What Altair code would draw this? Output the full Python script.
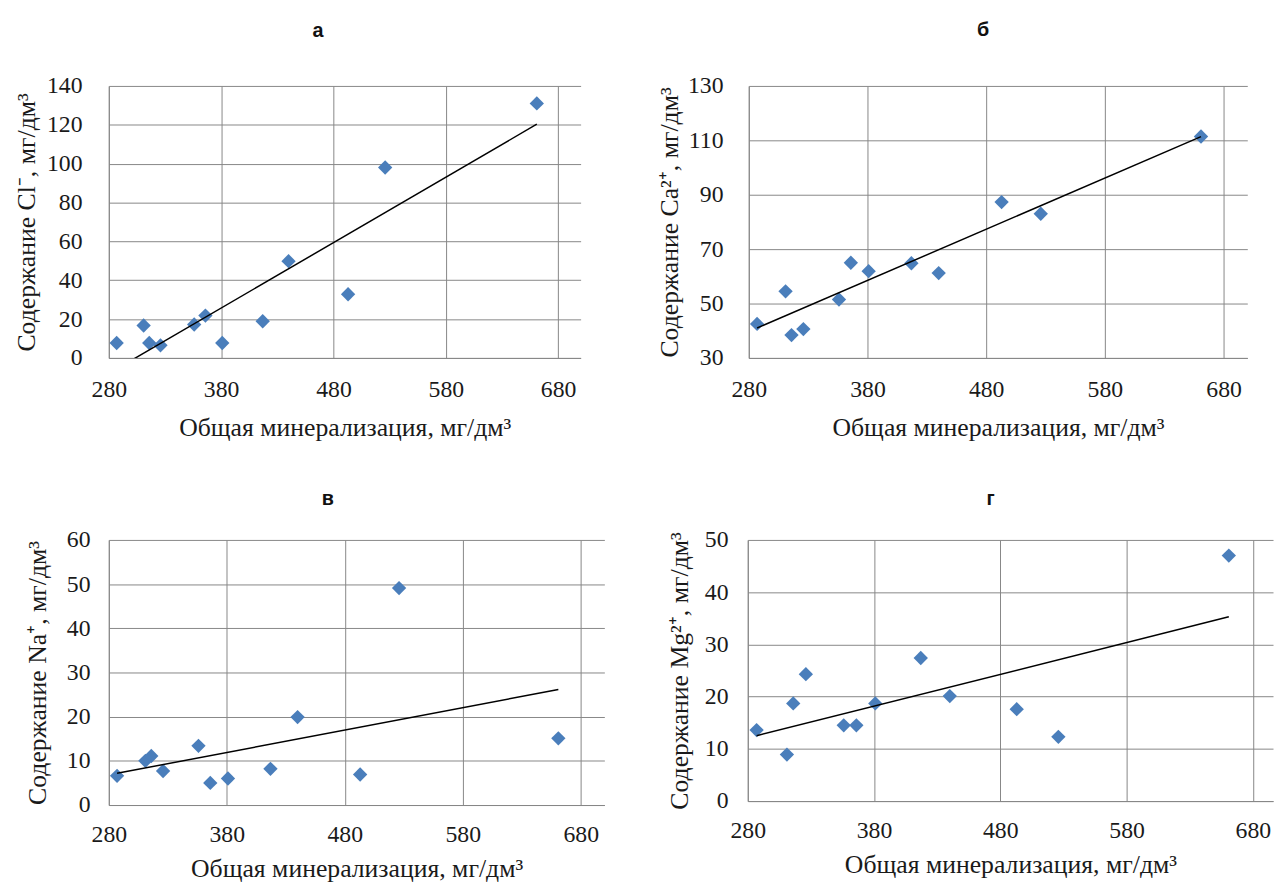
import altair as alt
import pandas as pd

# ---- data ----
mineralization = [287, 311, 316, 326, 356, 366, 381, 417, 440, 493, 526, 661]
chloride = [7.7, 16.7, 7.7, 6.5, 17.2, 21.8, 7.7, 18.9, 49.8, 32.8, 98.0, 131.0]
calcium = [42.5, 54.5, 38.4, 40.6, 51.5, 65.0, 61.9, 64.8, 61.2, 87.3, 83.0, 111.4]
sodium = [6.6, 10.0, 11.1, 7.7, 13.4, 5.0, 6.0, 8.2, 19.9, 6.9, 49.1, 15.1]
magnesium = [13.6, 8.9, 18.7, 24.3, 14.5, 14.5, 18.7, 27.4, 20.1, 17.6, 12.3, 47.0]

x_ticks = [280, 380, 480, 580, 680]
ticks_a = [0, 20, 40, 60, 80, 100, 120, 140]
ticks_b = [30, 50, 70, 90, 110, 130]
ticks_c = [0, 10, 20, 30, 40, 50, 60]
ticks_d = [0, 10, 20, 30, 40, 50]

letters = ["а", "б", "в", "г"]
x_title = "Общая минерализация, мг/дм³"
y_titles = [
    "Содержание Cl⁻, мг/дм³",
    "Содержание Ca²⁺, мг/дм³",
    "Содержание Na⁺, мг/дм³",
    "Содержание Mg²⁺, мг/дм³",
]

BLUE = "#4a7ebb"
GRID = "#878787"
SERIF = "Liberation Serif"
TXT = "#1a1a1a"
LABEL_FS = 24
TITLE_FS = 26


def panel(values, ytitle, ydom, yticks, letter, w, h, xmax,
          title_dx, title_offset, ylab_pad, ytit_pad, xlab_pad, xtit_pad):
    df = pd.DataFrame({"x": mineralization, "y": values})
    xenc = alt.X(
        "x:Q",
        scale=alt.Scale(domain=[280, xmax], nice=False, zero=False),
        axis=alt.Axis(values=x_ticks, title=x_title, labelPadding=xlab_pad, titlePadding=xtit_pad,
                      labelFont=SERIF, labelFontSize=LABEL_FS, labelColor=TXT,
                      titleFont=SERIF, titleFontSize=TITLE_FS, titleFontWeight="normal", titleColor=TXT),
    )
    yenc = alt.Y(
        "y:Q",
        scale=alt.Scale(domain=ydom, nice=False, zero=False),
        axis=alt.Axis(values=yticks, title=ytitle, labelPadding=ylab_pad, titlePadding=ytit_pad,
                      labelFont=SERIF, labelFontSize=LABEL_FS, labelColor=TXT,
                      titleFont=SERIF, titleFontSize=TITLE_FS, titleFontWeight="normal", titleColor=TXT),
    )
    pts = alt.Chart(df).mark_point(
        shape="diamond", filled=True, size=210, color=BLUE, opacity=1, strokeWidth=0
    ).encode(x=xenc, y=yenc)
    trend = alt.Chart(df).transform_regression("x", "y").mark_line(
        color="black", strokeWidth=1.5, clip=True
    ).encode(x=xenc, y=yenc)
    return alt.layer(pts, trend).properties(
        width=w,
        height=h,
        title=alt.TitleParams(letter, dx=title_dx, offset=title_offset, frame="group", anchor="middle"),
    )


pa = panel(chloride, y_titles[0], [0, 140], ticks_a, letters[0], 477, 275, 700, -27, 33, 27, 7, 20, 13)
pb = panel(calcium, y_titles[1], [30, 130], ticks_b, letters[1], 504, 275, 700, -15, 34, 26, 5, 20, 13)
pc = panel(sodium, y_titles[2], [0, 60], ticks_c, letters[2], 501, 268, 700, -29, 19, 19, 16, 18, 9)
pd_ = panel(magnesium, y_titles[3], [0, 50], ticks_d, letters[3], 531, 264, 696, -20, 19, 20, 12, 18, 9)

row1 = alt.hconcat(pa, pb, spacing=75)
row2 = alt.hconcat(pc, pd_, spacing=61)

chart = alt.vconcat(row1, row2, spacing=48).properties(
    padding={"left": 13, "top": 15, "right": 0, "bottom": 0},
    background="white",
).configure_view(
    stroke="transparent"
).configure_axis(
    grid=True,
    gridColor=GRID,
    gridWidth=1,
    domainColor=GRID,
    domainWidth=1,
    ticks=False,
    tickSize=0,
    labelFlush=False,
    labelFont=SERIF,
    labelFontSize=LABEL_FS,
    labelColor=TXT,
    titleFont=SERIF,
    titleFontSize=TITLE_FS,
    titleFontWeight="normal",
    titleColor=TXT,
).configure_title(
    font="Liberation Sans",
    fontSize=20,
    fontWeight="bold",
    color="#111111",
)

chart.save("out.html", embed_options={"renderer": "svg", "actions": False})
